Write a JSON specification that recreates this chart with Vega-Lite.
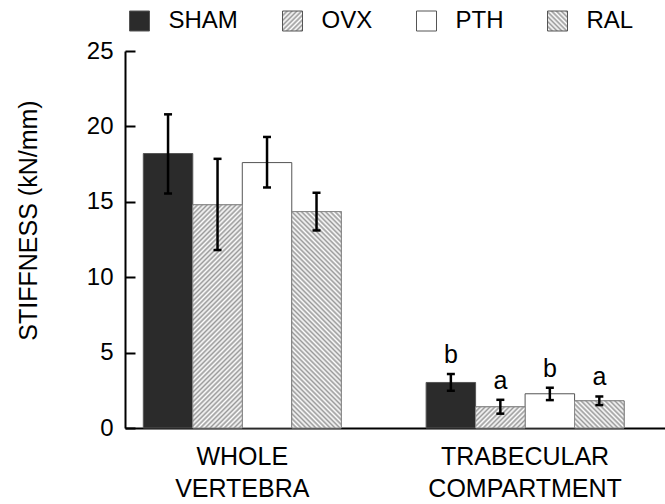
{
  "$schema": "https://vega.github.io/schema/vega-lite/v6.json",
  "width": 540,
  "height": 377,
  "autosize": {"type": "none"},
  "padding": {"left": 125, "top": 51, "right": 0, "bottom": 76},
  "background": "white",
  "config": {
    "font": "Liberation Sans",
    "view": {"stroke": null},
    "axis": {
      "labelFont": "Liberation Sans", "labelFontSize": 24, "labelColor": "#000",
      "titleFont": "Liberation Sans", "titleFontSize": 25, "titleFontWeight": "normal", "titleColor": "#000",
      "domainColor": "#000", "domainWidth": 2, "tickColor": "#000", "tickWidth": 2, "grid": false
    },
    "text": {"font": "Liberation Sans"}
  },
  "data": {
    "values": [
      {"cat": "WHOLE VERTEBRA", "group": "SHAM", "value": 18.2, "lo": 15.55, "hi": 20.8, "sig": ""},
      {"cat": "WHOLE VERTEBRA", "group": "OVX", "value": 14.8, "lo": 11.8, "hi": 17.85, "sig": ""},
      {"cat": "WHOLE VERTEBRA", "group": "PTH", "value": 17.6, "lo": 15.95, "hi": 19.3, "sig": ""},
      {"cat": "WHOLE VERTEBRA", "group": "RAL", "value": 14.35, "lo": 13.1, "hi": 15.6, "sig": ""},
      {"cat": "TRABECULAR COMPARTMENT", "group": "SHAM", "value": 3.02, "lo": 2.47, "hi": 3.58, "sig": "b"},
      {"cat": "TRABECULAR COMPARTMENT", "group": "OVX", "value": 1.4, "lo": 0.95, "hi": 1.87, "sig": "a"},
      {"cat": "TRABECULAR COMPARTMENT", "group": "PTH", "value": 2.27, "lo": 1.85, "hi": 2.67, "sig": "b"},
      {"cat": "TRABECULAR COMPARTMENT", "group": "RAL", "value": 1.8, "lo": 1.52, "hi": 2.09, "sig": "a"}
    ]
  },
  "encoding": {
    "x": {
      "field": "cat", "type": "nominal",
      "scale": {"domain": ["WHOLE VERTEBRA", "TRABECULAR COMPARTMENT"], "paddingInner": 0.3, "paddingOuter": 0.1047, "align": 0.309},
      "axis": {"title": null, "ticks": false, "labelAngle": 0, "labelPadding": 16, "labelLineHeight": 32, "labelExpr": "split(datum.label, ' ')", "labelFontSize": 25, "labelLimit": 0}
    },
    "xOffset": {
      "field": "group", "type": "nominal",
      "scale": {"domain": ["SHAM", "OVX", "PTH", "RAL"], "paddingInner": 0, "paddingOuter": 0}
    }
  },
  "layer": [
    {
      "mark": {"type": "bar", "stroke": "#555", "strokeWidth": 1},
      "encoding": {
        "y": {
          "field": "value", "type": "quantitative", "title": "STIFFNESS (kN/mm)",
          "scale": {"domain": [0, 25], "nice": false},
          "axis": {"values": [0, 5, 10, 15, 20, 25], "tickSize": -10, "labelPadding": 22, "titleX": -97, "titleY": 169, "titleAngle": -90, "titleAlign": "center", "titleBaseline": "middle"}
        },
        "fill": {
          "field": "group", "type": "nominal",
          "scale": {
            "domain": ["SHAM", "OVX", "PTH", "RAL"],
            "range": [
              "#2b2b2b",
              {"expr": "{gradient: 'linear', x1: 0, y1: 0, x2: 1.202, y2: 1.202, stops: [{offset: 0, color: '#999'}, {offset: 0.05, color: '#fff'}, {offset: 0.1, color: '#999'}, {offset: 0.15, color: '#fff'}, {offset: 0.2, color: '#999'}, {offset: 0.25, color: '#fff'}, {offset: 0.3, color: '#999'}, {offset: 0.35, color: '#fff'}, {offset: 0.4, color: '#999'}, {offset: 0.45, color: '#fff'}, {offset: 0.5, color: '#999'}, {offset: 0.55, color: '#fff'}, {offset: 0.6, color: '#999'}, {offset: 0.65, color: '#fff'}, {offset: 0.7, color: '#999'}, {offset: 0.75, color: '#fff'}, {offset: 0.8, color: '#999'}, {offset: 0.85, color: '#fff'}, {offset: 0.9, color: '#999'}, {offset: 0.95, color: '#fff'}, {offset: 1, color: '#999'}]}"},
              "#ffffff",
              {"expr": "{gradient: 'linear', x1: 0, y1: 1, x2: 1.202, y2: -0.202, stops: [{offset: 0, color: '#999'}, {offset: 0.05, color: '#fff'}, {offset: 0.1, color: '#999'}, {offset: 0.15, color: '#fff'}, {offset: 0.2, color: '#999'}, {offset: 0.25, color: '#fff'}, {offset: 0.3, color: '#999'}, {offset: 0.35, color: '#fff'}, {offset: 0.4, color: '#999'}, {offset: 0.45, color: '#fff'}, {offset: 0.5, color: '#999'}, {offset: 0.55, color: '#fff'}, {offset: 0.6, color: '#999'}, {offset: 0.65, color: '#fff'}, {offset: 0.7, color: '#999'}, {offset: 0.75, color: '#fff'}, {offset: 0.8, color: '#999'}, {offset: 0.85, color: '#fff'}, {offset: 0.9, color: '#999'}, {offset: 0.95, color: '#fff'}, {offset: 1, color: '#999'}]}"}
            ]
          },
          "legend": {
            "title": null, "orient": "none", "legendX": 2.5, "legendY": -42, "direction": "horizontal",
            "symbolType": "square", "symbolSize": 400, "symbolStrokeColor": "#555", "symbolStrokeWidth": 1,
            "labelFont": "Liberation Sans", "labelFontSize": 24, "labelColor": "#000", "labelOffset": 17,
            "columnPadding": 42, "labelLimit": 0, "padding": 0
          }
        }
      }
    },
    {
      "transform": [{"filter": "datum.group == 'OVX' && datum.cat == 'WHOLE VERTEBRA'"}],
      "mark": {"type": "bar", "stroke": "#8c8c8c", "strokeWidth": 1,
        "fill": {"gradient": "linear", "x1": 0, "y1": 0, "x2": 0.2732, "y2": 1.232, "stops": [
          {"offset": 0, "color": "#999"}, {"offset": 0.0083, "color": "#fff"}, {"offset": 0.0167, "color": "#999"}, {"offset": 0.025, "color": "#fff"}, {"offset": 0.0333, "color": "#999"}, {"offset": 0.0417, "color": "#fff"}, {"offset": 0.05, "color": "#999"}, {"offset": 0.0583, "color": "#fff"}, {"offset": 0.0667, "color": "#999"}, {"offset": 0.075, "color": "#fff"}, {"offset": 0.0833, "color": "#999"}, {"offset": 0.0917, "color": "#fff"},
          {"offset": 0.1, "color": "#999"}, {"offset": 0.1083, "color": "#fff"}, {"offset": 0.1167, "color": "#999"}, {"offset": 0.125, "color": "#fff"}, {"offset": 0.1333, "color": "#999"}, {"offset": 0.1417, "color": "#fff"}, {"offset": 0.15, "color": "#999"}, {"offset": 0.1583, "color": "#fff"}, {"offset": 0.1667, "color": "#999"}, {"offset": 0.175, "color": "#fff"}, {"offset": 0.1833, "color": "#999"}, {"offset": 0.1917, "color": "#fff"},
          {"offset": 0.2, "color": "#999"}, {"offset": 0.2083, "color": "#fff"}, {"offset": 0.2167, "color": "#999"}, {"offset": 0.225, "color": "#fff"}, {"offset": 0.2333, "color": "#999"}, {"offset": 0.2417, "color": "#fff"}, {"offset": 0.25, "color": "#999"}, {"offset": 0.2583, "color": "#fff"}, {"offset": 0.2667, "color": "#999"}, {"offset": 0.275, "color": "#fff"}, {"offset": 0.2833, "color": "#999"}, {"offset": 0.2917, "color": "#fff"},
          {"offset": 0.3, "color": "#999"}, {"offset": 0.3083, "color": "#fff"}, {"offset": 0.3167, "color": "#999"}, {"offset": 0.325, "color": "#fff"}, {"offset": 0.3333, "color": "#999"}, {"offset": 0.3417, "color": "#fff"}, {"offset": 0.35, "color": "#999"}, {"offset": 0.3583, "color": "#fff"}, {"offset": 0.3667, "color": "#999"}, {"offset": 0.375, "color": "#fff"}, {"offset": 0.3833, "color": "#999"}, {"offset": 0.3917, "color": "#fff"},
          {"offset": 0.4, "color": "#999"}, {"offset": 0.4083, "color": "#fff"}, {"offset": 0.4167, "color": "#999"}, {"offset": 0.425, "color": "#fff"}, {"offset": 0.4333, "color": "#999"}, {"offset": 0.4417, "color": "#fff"}, {"offset": 0.45, "color": "#999"}, {"offset": 0.4583, "color": "#fff"}, {"offset": 0.4667, "color": "#999"}, {"offset": 0.475, "color": "#fff"}, {"offset": 0.4833, "color": "#999"}, {"offset": 0.4917, "color": "#fff"},
          {"offset": 0.5, "color": "#999"}, {"offset": 0.5083, "color": "#fff"}, {"offset": 0.5167, "color": "#999"}, {"offset": 0.525, "color": "#fff"}, {"offset": 0.5333, "color": "#999"}, {"offset": 0.5417, "color": "#fff"}, {"offset": 0.55, "color": "#999"}, {"offset": 0.5583, "color": "#fff"}, {"offset": 0.5667, "color": "#999"}, {"offset": 0.575, "color": "#fff"}, {"offset": 0.5833, "color": "#999"}, {"offset": 0.5917, "color": "#fff"},
          {"offset": 0.6, "color": "#999"}, {"offset": 0.6083, "color": "#fff"}, {"offset": 0.6167, "color": "#999"}, {"offset": 0.625, "color": "#fff"}, {"offset": 0.6333, "color": "#999"}, {"offset": 0.6417, "color": "#fff"}, {"offset": 0.65, "color": "#999"}, {"offset": 0.6583, "color": "#fff"}, {"offset": 0.6667, "color": "#999"}, {"offset": 0.675, "color": "#fff"}, {"offset": 0.6833, "color": "#999"}, {"offset": 0.6917, "color": "#fff"},
          {"offset": 0.7, "color": "#999"}, {"offset": 0.7083, "color": "#fff"}, {"offset": 0.7167, "color": "#999"}, {"offset": 0.725, "color": "#fff"}, {"offset": 0.7333, "color": "#999"}, {"offset": 0.7417, "color": "#fff"}, {"offset": 0.75, "color": "#999"}, {"offset": 0.7583, "color": "#fff"}, {"offset": 0.7667, "color": "#999"}, {"offset": 0.775, "color": "#fff"}, {"offset": 0.7833, "color": "#999"}, {"offset": 0.7917, "color": "#fff"},
          {"offset": 0.8, "color": "#999"}, {"offset": 0.8083, "color": "#fff"}, {"offset": 0.8167, "color": "#999"}, {"offset": 0.825, "color": "#fff"}, {"offset": 0.8333, "color": "#999"}, {"offset": 0.8417, "color": "#fff"}, {"offset": 0.85, "color": "#999"}, {"offset": 0.8583, "color": "#fff"}, {"offset": 0.8667, "color": "#999"}, {"offset": 0.875, "color": "#fff"}, {"offset": 0.8833, "color": "#999"}, {"offset": 0.8917, "color": "#fff"},
          {"offset": 0.9, "color": "#999"}, {"offset": 0.9083, "color": "#fff"}, {"offset": 0.9167, "color": "#999"}, {"offset": 0.925, "color": "#fff"}, {"offset": 0.9333, "color": "#999"}, {"offset": 0.9417, "color": "#fff"}, {"offset": 0.95, "color": "#999"}, {"offset": 0.9583, "color": "#fff"}, {"offset": 0.9667, "color": "#999"}, {"offset": 0.975, "color": "#fff"}, {"offset": 0.9833, "color": "#999"}, {"offset": 0.9917, "color": "#fff"},
          {"offset": 1, "color": "#999"}
        ]}
      },
      "encoding": {"y": {"field": "value", "type": "quantitative", "title": "STIFFNESS (kN/mm)"}}
    },
    {
      "transform": [{"filter": "datum.group == 'RAL' && datum.cat == 'WHOLE VERTEBRA'"}],
      "mark": {"type": "bar", "stroke": "#8c8c8c", "strokeWidth": 1,
        "fill": {"gradient": "linear", "x1": 0, "y1": 1, "x2": 0.2898, "y2": -0.2669, "stops": [
          {"offset": 0, "color": "#999"}, {"offset": 0.0083, "color": "#fff"}, {"offset": 0.0167, "color": "#999"}, {"offset": 0.025, "color": "#fff"}, {"offset": 0.0333, "color": "#999"}, {"offset": 0.0417, "color": "#fff"}, {"offset": 0.05, "color": "#999"}, {"offset": 0.0583, "color": "#fff"}, {"offset": 0.0667, "color": "#999"}, {"offset": 0.075, "color": "#fff"}, {"offset": 0.0833, "color": "#999"}, {"offset": 0.0917, "color": "#fff"},
          {"offset": 0.1, "color": "#999"}, {"offset": 0.1083, "color": "#fff"}, {"offset": 0.1167, "color": "#999"}, {"offset": 0.125, "color": "#fff"}, {"offset": 0.1333, "color": "#999"}, {"offset": 0.1417, "color": "#fff"}, {"offset": 0.15, "color": "#999"}, {"offset": 0.1583, "color": "#fff"}, {"offset": 0.1667, "color": "#999"}, {"offset": 0.175, "color": "#fff"}, {"offset": 0.1833, "color": "#999"}, {"offset": 0.1917, "color": "#fff"},
          {"offset": 0.2, "color": "#999"}, {"offset": 0.2083, "color": "#fff"}, {"offset": 0.2167, "color": "#999"}, {"offset": 0.225, "color": "#fff"}, {"offset": 0.2333, "color": "#999"}, {"offset": 0.2417, "color": "#fff"}, {"offset": 0.25, "color": "#999"}, {"offset": 0.2583, "color": "#fff"}, {"offset": 0.2667, "color": "#999"}, {"offset": 0.275, "color": "#fff"}, {"offset": 0.2833, "color": "#999"}, {"offset": 0.2917, "color": "#fff"},
          {"offset": 0.3, "color": "#999"}, {"offset": 0.3083, "color": "#fff"}, {"offset": 0.3167, "color": "#999"}, {"offset": 0.325, "color": "#fff"}, {"offset": 0.3333, "color": "#999"}, {"offset": 0.3417, "color": "#fff"}, {"offset": 0.35, "color": "#999"}, {"offset": 0.3583, "color": "#fff"}, {"offset": 0.3667, "color": "#999"}, {"offset": 0.375, "color": "#fff"}, {"offset": 0.3833, "color": "#999"}, {"offset": 0.3917, "color": "#fff"},
          {"offset": 0.4, "color": "#999"}, {"offset": 0.4083, "color": "#fff"}, {"offset": 0.4167, "color": "#999"}, {"offset": 0.425, "color": "#fff"}, {"offset": 0.4333, "color": "#999"}, {"offset": 0.4417, "color": "#fff"}, {"offset": 0.45, "color": "#999"}, {"offset": 0.4583, "color": "#fff"}, {"offset": 0.4667, "color": "#999"}, {"offset": 0.475, "color": "#fff"}, {"offset": 0.4833, "color": "#999"}, {"offset": 0.4917, "color": "#fff"},
          {"offset": 0.5, "color": "#999"}, {"offset": 0.5083, "color": "#fff"}, {"offset": 0.5167, "color": "#999"}, {"offset": 0.525, "color": "#fff"}, {"offset": 0.5333, "color": "#999"}, {"offset": 0.5417, "color": "#fff"}, {"offset": 0.55, "color": "#999"}, {"offset": 0.5583, "color": "#fff"}, {"offset": 0.5667, "color": "#999"}, {"offset": 0.575, "color": "#fff"}, {"offset": 0.5833, "color": "#999"}, {"offset": 0.5917, "color": "#fff"},
          {"offset": 0.6, "color": "#999"}, {"offset": 0.6083, "color": "#fff"}, {"offset": 0.6167, "color": "#999"}, {"offset": 0.625, "color": "#fff"}, {"offset": 0.6333, "color": "#999"}, {"offset": 0.6417, "color": "#fff"}, {"offset": 0.65, "color": "#999"}, {"offset": 0.6583, "color": "#fff"}, {"offset": 0.6667, "color": "#999"}, {"offset": 0.675, "color": "#fff"}, {"offset": 0.6833, "color": "#999"}, {"offset": 0.6917, "color": "#fff"},
          {"offset": 0.7, "color": "#999"}, {"offset": 0.7083, "color": "#fff"}, {"offset": 0.7167, "color": "#999"}, {"offset": 0.725, "color": "#fff"}, {"offset": 0.7333, "color": "#999"}, {"offset": 0.7417, "color": "#fff"}, {"offset": 0.75, "color": "#999"}, {"offset": 0.7583, "color": "#fff"}, {"offset": 0.7667, "color": "#999"}, {"offset": 0.775, "color": "#fff"}, {"offset": 0.7833, "color": "#999"}, {"offset": 0.7917, "color": "#fff"},
          {"offset": 0.8, "color": "#999"}, {"offset": 0.8083, "color": "#fff"}, {"offset": 0.8167, "color": "#999"}, {"offset": 0.825, "color": "#fff"}, {"offset": 0.8333, "color": "#999"}, {"offset": 0.8417, "color": "#fff"}, {"offset": 0.85, "color": "#999"}, {"offset": 0.8583, "color": "#fff"}, {"offset": 0.8667, "color": "#999"}, {"offset": 0.875, "color": "#fff"}, {"offset": 0.8833, "color": "#999"}, {"offset": 0.8917, "color": "#fff"},
          {"offset": 0.9, "color": "#999"}, {"offset": 0.9083, "color": "#fff"}, {"offset": 0.9167, "color": "#999"}, {"offset": 0.925, "color": "#fff"}, {"offset": 0.9333, "color": "#999"}, {"offset": 0.9417, "color": "#fff"}, {"offset": 0.95, "color": "#999"}, {"offset": 0.9583, "color": "#fff"}, {"offset": 0.9667, "color": "#999"}, {"offset": 0.975, "color": "#fff"}, {"offset": 0.9833, "color": "#999"}, {"offset": 0.9917, "color": "#fff"},
          {"offset": 1, "color": "#999"}
        ]}
      },
      "encoding": {"y": {"field": "value", "type": "quantitative", "title": "STIFFNESS (kN/mm)"}}
    },
    {
      "transform": [{"filter": "datum.group == 'OVX' && datum.cat == 'TRABECULAR COMPARTMENT'"}],
      "mark": {"type": "bar", "stroke": "#8c8c8c", "strokeWidth": 1,
        "fill": {"gradient": "linear", "x1": 0, "y1": 0, "x2": 1.644, "y2": 0.701, "stops": [
          {"offset": 0, "color": "#999"}, {"offset": 0.025, "color": "#fff"}, {"offset": 0.05, "color": "#999"}, {"offset": 0.075, "color": "#fff"},
          {"offset": 0.1, "color": "#999"}, {"offset": 0.125, "color": "#fff"}, {"offset": 0.15, "color": "#999"}, {"offset": 0.175, "color": "#fff"},
          {"offset": 0.2, "color": "#999"}, {"offset": 0.225, "color": "#fff"}, {"offset": 0.25, "color": "#999"}, {"offset": 0.275, "color": "#fff"},
          {"offset": 0.3, "color": "#999"}, {"offset": 0.325, "color": "#fff"}, {"offset": 0.35, "color": "#999"}, {"offset": 0.375, "color": "#fff"},
          {"offset": 0.4, "color": "#999"}, {"offset": 0.425, "color": "#fff"}, {"offset": 0.45, "color": "#999"}, {"offset": 0.475, "color": "#fff"},
          {"offset": 0.5, "color": "#999"}, {"offset": 0.525, "color": "#fff"}, {"offset": 0.55, "color": "#999"}, {"offset": 0.575, "color": "#fff"},
          {"offset": 0.6, "color": "#999"}, {"offset": 0.625, "color": "#fff"}, {"offset": 0.65, "color": "#999"}, {"offset": 0.675, "color": "#fff"},
          {"offset": 0.7, "color": "#999"}, {"offset": 0.725, "color": "#fff"}, {"offset": 0.75, "color": "#999"}, {"offset": 0.775, "color": "#fff"},
          {"offset": 0.8, "color": "#999"}, {"offset": 0.825, "color": "#fff"}, {"offset": 0.85, "color": "#999"}, {"offset": 0.875, "color": "#fff"},
          {"offset": 0.9, "color": "#999"}, {"offset": 0.925, "color": "#fff"}, {"offset": 0.95, "color": "#999"}, {"offset": 0.975, "color": "#fff"},
          {"offset": 1, "color": "#999"}
        ]}
      },
      "encoding": {"y": {"field": "value", "type": "quantitative", "title": "STIFFNESS (kN/mm)"}}
    },
    {
      "transform": [{"filter": "datum.group == 'RAL' && datum.cat == 'TRABECULAR COMPARTMENT'"}],
      "mark": {"type": "bar", "stroke": "#8c8c8c", "strokeWidth": 1,
        "fill": {"gradient": "linear", "x1": 0, "y1": 1, "x2": 1.495, "y2": 0.1815, "stops": [
          {"offset": 0, "color": "#999"}, {"offset": 0.025, "color": "#fff"}, {"offset": 0.05, "color": "#999"}, {"offset": 0.075, "color": "#fff"},
          {"offset": 0.1, "color": "#999"}, {"offset": 0.125, "color": "#fff"}, {"offset": 0.15, "color": "#999"}, {"offset": 0.175, "color": "#fff"},
          {"offset": 0.2, "color": "#999"}, {"offset": 0.225, "color": "#fff"}, {"offset": 0.25, "color": "#999"}, {"offset": 0.275, "color": "#fff"},
          {"offset": 0.3, "color": "#999"}, {"offset": 0.325, "color": "#fff"}, {"offset": 0.35, "color": "#999"}, {"offset": 0.375, "color": "#fff"},
          {"offset": 0.4, "color": "#999"}, {"offset": 0.425, "color": "#fff"}, {"offset": 0.45, "color": "#999"}, {"offset": 0.475, "color": "#fff"},
          {"offset": 0.5, "color": "#999"}, {"offset": 0.525, "color": "#fff"}, {"offset": 0.55, "color": "#999"}, {"offset": 0.575, "color": "#fff"},
          {"offset": 0.6, "color": "#999"}, {"offset": 0.625, "color": "#fff"}, {"offset": 0.65, "color": "#999"}, {"offset": 0.675, "color": "#fff"},
          {"offset": 0.7, "color": "#999"}, {"offset": 0.725, "color": "#fff"}, {"offset": 0.75, "color": "#999"}, {"offset": 0.775, "color": "#fff"},
          {"offset": 0.8, "color": "#999"}, {"offset": 0.825, "color": "#fff"}, {"offset": 0.85, "color": "#999"}, {"offset": 0.875, "color": "#fff"},
          {"offset": 0.9, "color": "#999"}, {"offset": 0.925, "color": "#fff"}, {"offset": 0.95, "color": "#999"}, {"offset": 0.975, "color": "#fff"},
          {"offset": 1, "color": "#999"}
        ]}
      },
      "encoding": {"y": {"field": "value", "type": "quantitative", "title": "STIFFNESS (kN/mm)"}}
    },
    {
      "mark": {"type": "rule", "color": "#000", "strokeWidth": 2.5},
      "encoding": {
        "y": {"field": "lo", "type": "quantitative", "title": "STIFFNESS (kN/mm)"},
        "y2": {"field": "hi"}
      }
    },
    {
      "mark": {"type": "tick", "color": "#000", "size": 8, "thickness": 2.5, "opacity": 1},
      "encoding": {"y": {"field": "hi", "type": "quantitative", "title": "STIFFNESS (kN/mm)"}}
    },
    {
      "mark": {"type": "tick", "color": "#000", "size": 8, "thickness": 2.5, "opacity": 1},
      "encoding": {"y": {"field": "lo", "type": "quantitative", "title": "STIFFNESS (kN/mm)"}}
    },
    {
      "transform": [{"filter": "datum.sig != ''"}],
      "mark": {"type": "text", "fontSize": 25, "color": "#000", "baseline": "alphabetic", "dy": -11},
      "encoding": {
        "y": {"field": "hi", "type": "quantitative", "title": "STIFFNESS (kN/mm)"},
        "text": {"field": "sig"}
      }
    }
  ]
}
